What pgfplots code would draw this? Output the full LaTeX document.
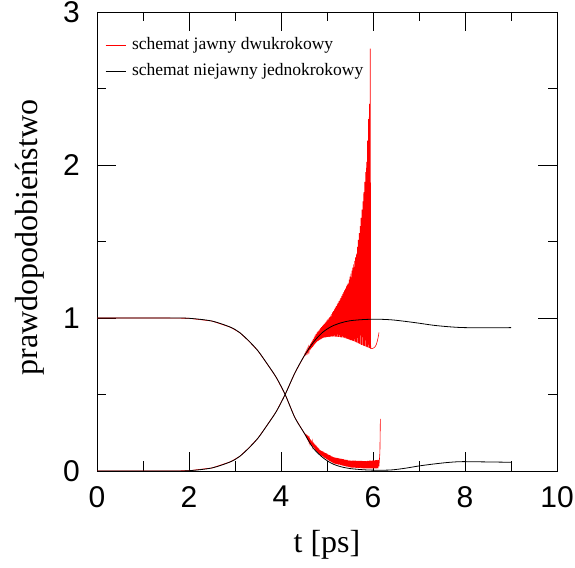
\documentclass[border=0pt]{standalone}
\usepackage{fontspec}
\setmainfont{Liberation Serif}
\newfontfamily\hv{Liberation Sans}
\usepackage{pgfplots}
\pgfplotsset{compat=1.18}
\begin{document}
\begin{tikzpicture}
\path[use as bounding box] (0,0) rectangle (575pt,567pt);
\begin{axis}[
  at={(97pt,96pt)}, anchor=south west,
  scale only axis,
  width=460pt, height=459pt,
  xmin=0, xmax=10, ymin=0, ymax=3,
  xtick={0,2,4,6,8,10}, minor xtick={1,3,5,7,9},
  ytick={0,1,2,3}, minor ytick={0.5,1.5,2.5},
  tick align=inside, tick pos=both,
  major tick length=19pt, minor tick length=9.5pt,
  every tick/.style={black, line width=0.6pt},
  axis line style={line width=0.9pt},
  /pgf/number format/assume math mode=true,
  ticklabel style={font=\hv\fontsize{30}{30}\selectfont, inner sep=0pt},
  xticklabel style={yshift=-15pt},
  yticklabel style={xshift=-17pt},
  xlabel={t [ps]}, ylabel={prawdopodobieństwo},
  label style={font=\fontsize{32}{32}\selectfont},
  xlabel style={at={(axis description cs:0.5,0)}, anchor=center, yshift=-74pt},
  ylabel style={at={(axis description cs:0,0.5)}, anchor=center, yshift=67pt, xshift=4pt},
  legend style={draw=none, fill=none, at={(0,1)}, anchor=north west,
    xshift=8pt, yshift=-23pt, inner sep=0pt, row sep=6pt,
    font=\fontsize{17.5}{17.5}\selectfont,
    nodes={text height=12pt, text depth=4pt, inner sep=2pt}},
  legend cell align=left,
  legend style={/tikz/every odd column/.append style={column sep=4pt}},
  legend image code/.code={\draw[#1, line width=0.8pt] (0pt,0pt) -- (20pt,0pt);},
]
% explicit two-step scheme (rising population)
\addplot[red, line width=0.6pt] coordinates {
(0,0) (1.5,0) (2.0,0.002) (2.5,0.02) (2.9,0.06) (3.1,0.095) (3.3,0.15) (3.5,0.215) (3.7,0.30) (3.9,0.39) (4.09,0.5) (4.3,0.64) (4.5,0.75)
(4.51,0.753) (4.52,0.766) (4.53,0.759) (4.54,0.776) (4.55,0.765) (4.56,0.787) (4.57,0.772) (4.58,0.798) (4.59,0.778) (4.60,0.809)
(4.61,0.784) (4.62,0.819) (4.63,0.790) (4.64,0.830) (4.65,0.797) (4.66,0.841) (4.67,0.805) (4.68,0.852) (4.69,0.812) (4.70,0.862)
(4.71,0.819) (4.72,0.873) (4.73,0.827) (4.74,0.884) (4.75,0.834) (4.76,0.895) (4.77,0.841) (4.78,0.904) (4.79,0.847) (4.80,0.911)
(4.81,0.851) (4.82,0.918) (4.83,0.855) (4.84,0.926) (4.85,0.859) (4.86,0.933) (4.87,0.862) (4.88,0.940) (4.89,0.866) (4.90,0.948)
(4.91,0.870) (4.92,0.955) (4.93,0.872) (4.94,0.962) (4.95,0.873) (4.96,0.970) (4.97,0.874) (4.98,0.977) (4.99,0.875) (5.00,0.984)
(5.01,0.876) (5.02,0.992) (5.03,0.876) (5.04,0.999) (5.05,0.877) (5.06,1.006) (5.07,0.878) (5.08,1.016) (5.09,0.878) (5.10,1.026)
(5.11,0.879) (5.12,1.036) (5.13,0.880) (5.14,1.047) (5.15,0.880) (5.16,1.057) (5.17,0.879) (5.18,1.068) (5.19,0.878) (5.20,1.078)
(5.21,0.878) (5.22,1.089) (5.23,0.877) (5.24,1.099) (5.25,0.876) (5.26,1.110) (5.27,0.876) (5.28,1.120) (5.29,0.875) (5.30,1.132)
(5.31,0.874) (5.32,1.144) (5.33,0.874) (5.34,1.157) (5.35,0.873) (5.36,1.169) (5.37,0.871) (5.38,1.181) (5.39,0.869) (5.40,1.193)
(5.41,0.867) (5.42,1.206) (5.43,0.865) (5.44,1.218) (5.45,0.863) (5.46,1.230) (5.47,0.860) (5.48,1.250) (5.49,0.858) (5.50,1.270)
(5.51,0.856) (5.52,1.290) (5.53,0.854) (5.54,1.310) (5.55,0.852) (5.56,1.330) (5.57,0.850) (5.58,1.351) (5.59,0.847) (5.60,1.374)
(5.61,0.845) (5.62,1.397) (5.63,0.842) (5.64,1.420) (5.65,0.839) (5.66,1.465) (5.67,0.836) (5.68,1.510) (5.69,0.834) (5.70,1.555)
(5.71,0.831) (5.72,1.600) (5.73,0.828) (5.74,1.654) (5.75,0.825) (5.76,1.709) (5.77,0.823) (5.78,1.763) (5.79,0.820) (5.80,1.823)
(5.81,0.818) (5.82,1.889) (5.83,0.815) (5.84,1.954) (5.85,0.813) (5.86,2.020) (5.87,0.810) (5.88,2.160) (5.89,0.808) (5.90,2.300)
(5.91,0.805) (5.92,2.400) (5.93,0.803) (5.94,2.760) (5.95,0.800)
(5.97,0.800) (6.00,0.802) (6.04,0.810) (6.07,0.825) (6.09,0.845) (6.11,0.870) (6.13,0.905)
};
\addlegendentry{schemat jawny dwukrokowy}
% explicit two-step scheme (decaying population)
\addplot[red, line width=0.6pt, forget plot] coordinates {
(0,1) (1.5,1) (2.0,0.998) (2.5,0.98) (2.9,0.94) (3.1,0.905) (3.3,0.85) (3.5,0.785) (3.7,0.70) (3.9,0.61) (4.09,0.5) (4.3,0.35) (4.5,0.25)
(4.51,0.245) (4.52,0.244) (4.53,0.234) (4.54,0.238) (4.55,0.223) (4.56,0.232) (4.57,0.213) (4.58,0.225) (4.59,0.202) (4.60,0.219)
(4.61,0.191) (4.62,0.213) (4.63,0.180) (4.64,0.207) (4.65,0.173) (4.66,0.200) (4.67,0.166) (4.68,0.193) (4.69,0.160) (4.70,0.187)
(4.71,0.153) (4.72,0.180) (4.73,0.146) (4.74,0.173) (4.75,0.139) (4.76,0.167) (4.77,0.132) (4.78,0.160) (4.79,0.125) (4.80,0.154)
(4.81,0.119) (4.82,0.147) (4.83,0.112) (4.84,0.140) (4.85,0.105) (4.86,0.135) (4.87,0.101) (4.88,0.132) (4.89,0.097) (4.90,0.129)
(4.91,0.094) (4.92,0.126) (4.93,0.090) (4.94,0.122) (4.95,0.086) (4.96,0.119) (4.97,0.082) (4.98,0.116) (4.99,0.078) (5.00,0.113)
(5.01,0.075) (5.02,0.109) (5.03,0.071) (5.04,0.106) (5.05,0.067) (5.06,0.103) (5.07,0.063) (5.08,0.100) (5.09,0.060) (5.10,0.096)
(5.11,0.056) (5.12,0.093) (5.13,0.052) (5.14,0.090) (5.15,0.049) (5.16,0.089) (5.17,0.048) (5.18,0.088) (5.19,0.046) (5.20,0.086)
(5.21,0.045) (5.22,0.085) (5.23,0.043) (5.24,0.084) (5.25,0.042) (5.26,0.083) (5.27,0.041) (5.28,0.081) (5.29,0.039) (5.30,0.080)
(5.31,0.038) (5.32,0.079) (5.33,0.036) (5.34,0.078) (5.35,0.035) (5.36,0.077) (5.37,0.033) (5.38,0.075) (5.39,0.032) (5.40,0.074)
(5.41,0.030) (5.42,0.073) (5.43,0.029) (5.44,0.072) (5.45,0.028) (5.46,0.070) (5.47,0.026) (5.48,0.069) (5.49,0.025) (5.50,0.068)
(5.51,0.024) (5.52,0.067) (5.53,0.023) (5.54,0.067) (5.55,0.023) (5.56,0.067) (5.57,0.023) (5.58,0.067) (5.59,0.022) (5.60,0.067)
(5.61,0.022) (5.62,0.067) (5.63,0.021) (5.64,0.066) (5.65,0.021) (5.66,0.066) (5.67,0.020) (5.68,0.066) (5.69,0.020) (5.70,0.066)
(5.71,0.020) (5.72,0.066) (5.73,0.019) (5.74,0.066) (5.75,0.019) (5.76,0.066) (5.77,0.018) (5.78,0.065) (5.79,0.018) (5.80,0.065)
(5.81,0.018) (5.82,0.065) (5.83,0.017) (5.84,0.065) (5.85,0.017) (5.86,0.065) (5.87,0.017) (5.88,0.066) (5.89,0.017) (5.90,0.066)
(5.91,0.017) (5.92,0.067) (5.93,0.017) (5.94,0.067) (5.95,0.017) (5.96,0.068) (5.97,0.017) (5.98,0.068) (5.99,0.017) (6.00,0.069)
(6.01,0.017) (6.02,0.069) (6.03,0.017) (6.04,0.070) (6.05,0.018) (6.06,0.071) (6.07,0.018) (6.08,0.071) (6.09,0.018) (6.10,0.072)
(6.11,0.018) (6.12,0.072) (6.13,0.030) (6.15,0.120) (6.16,0.340)
};
% implicit one-step scheme (rising population)
\addplot[black, line width=0.8pt, smooth] coordinates {
(0,0) (1.5,0) (2.0,0.002) (2.5,0.02) (2.9,0.06) (3.1,0.095) (3.3,0.15) (3.5,0.215) (3.7,0.30) (3.9,0.39) (4.09,0.5) (4.3,0.64) (4.5,0.75)
(4.7,0.84) (4.9,0.905) (5.1,0.945) (5.3,0.968) (5.5,0.982) (5.8,0.99) (6.1,0.992) (6.4,0.988) (6.7,0.978) (7.0,0.966) (7.3,0.953)
(7.6,0.944) (7.9,0.938) (8.3,0.936) (9.0,0.937)
};
\addlegendentry{schemat niejawny jednokrokowy}
% implicit one-step scheme (decaying population)
\addplot[black, line width=0.8pt, smooth, forget plot] coordinates {
(0,1) (1.5,1) (2.0,0.998) (2.5,0.98) (2.9,0.94) (3.1,0.905) (3.3,0.85) (3.5,0.785) (3.7,0.70) (3.9,0.61) (4.09,0.5) (4.3,0.35) (4.5,0.25)
(4.7,0.15) (4.9,0.09) (5.1,0.05) (5.3,0.028) (5.5,0.016) (5.8,0.008) (6.1,0.005) (6.4,0.007) (6.7,0.018) (7.0,0.033) (7.3,0.045)
(7.6,0.055) (7.9,0.061) (8.3,0.06) (9.0,0.057)
};
\end{axis}
\end{tikzpicture}
\end{document}
